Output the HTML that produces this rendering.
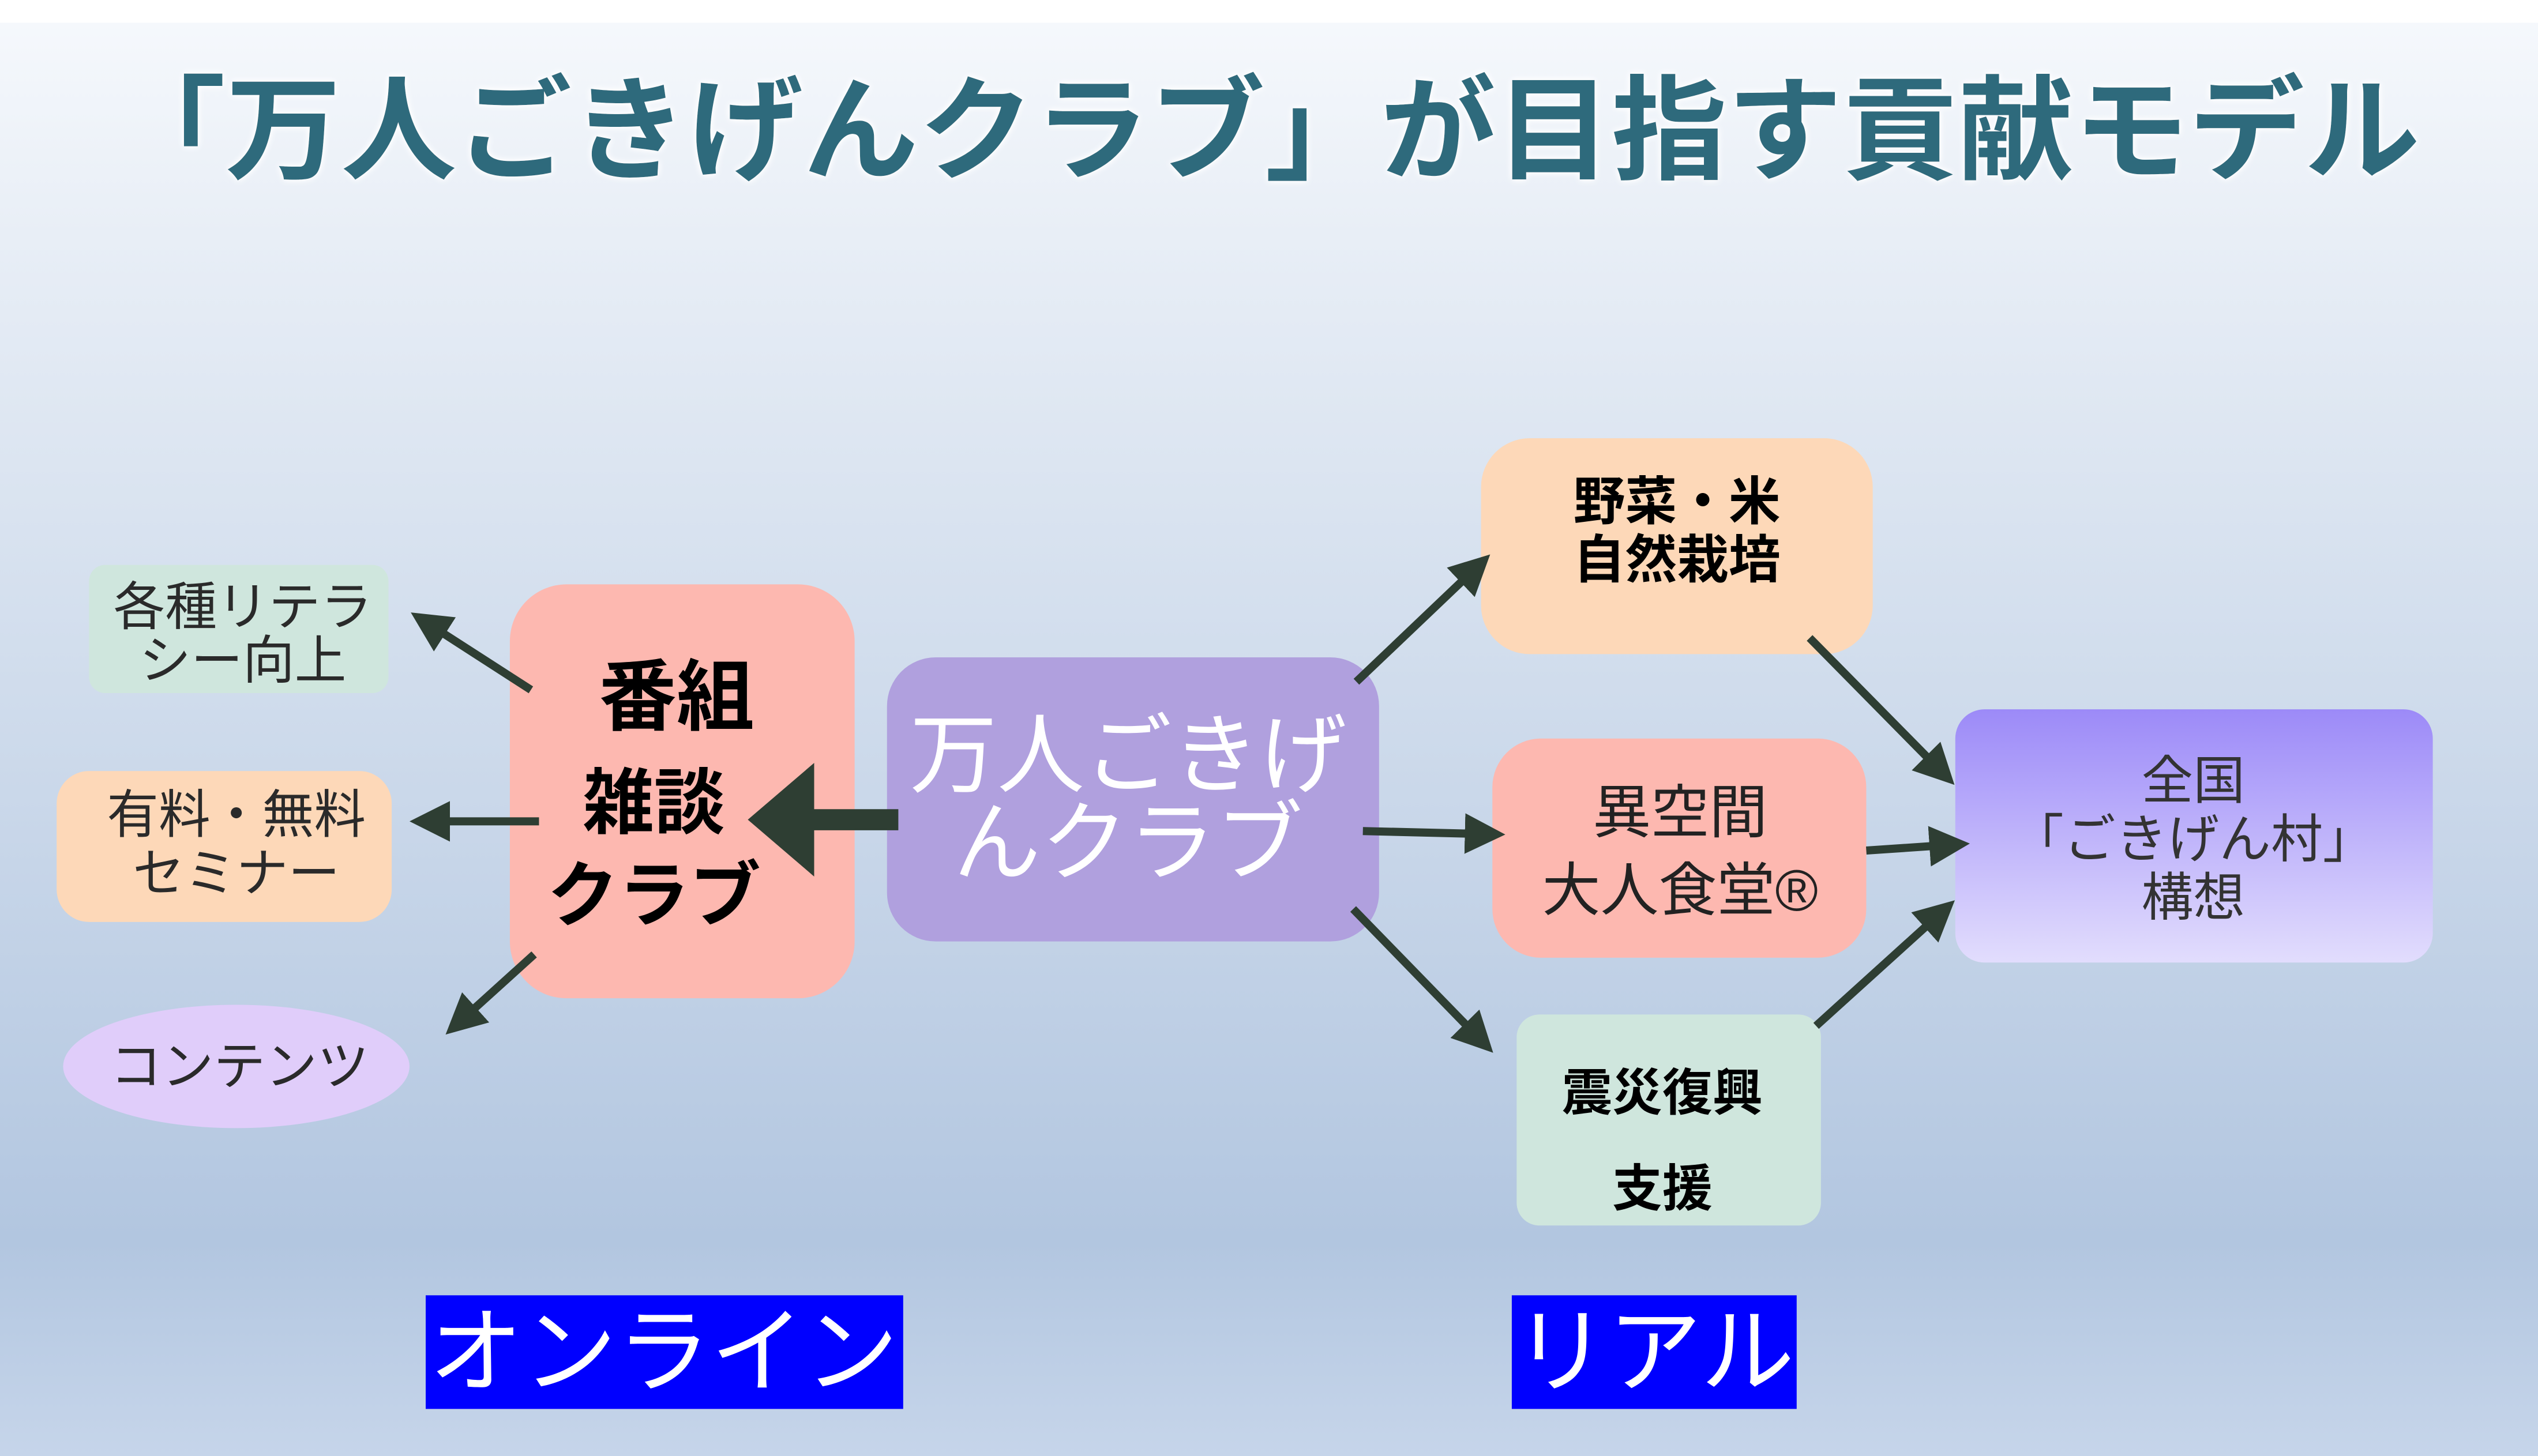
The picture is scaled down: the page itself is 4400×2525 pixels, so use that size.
<!DOCTYPE html>
<html><head><meta charset="utf-8"><style>
html,body{margin:0;padding:0;}
body{width:4400px;height:2525px;overflow:hidden;}
svg{display:block;}
text{font-family:"Liberation Sans","Noto Sans CJK JP",sans-serif;}
</style></head><body>
<svg width="4400" height="2525" viewBox="0 0 1568 897" preserveAspectRatio="none" xmlns="http://www.w3.org/2000/svg">
<defs>
<linearGradient id="bg" x1="0" y1="0" x2="0" y2="1">
<stop offset="0" stop-color="#f5f8fc"/>
<stop offset="0.15" stop-color="#e8eef6"/>
<stop offset="0.85" stop-color="#b2c6e0"/>
<stop offset="1" stop-color="#c6d5ea"/>
</linearGradient>
<linearGradient id="g4" x1="0" y1="0" x2="0" y2="1">
<stop offset="0" stop-color="#9c8af8"/>
<stop offset="1" stop-color="#e2ddfd"/>
</linearGradient>
<marker id="ah" viewBox="0 0 10 10" refX="8" refY="5" markerWidth="5" markerHeight="5" orient="auto"><path d="M0,0 L10,5 L0,10 z" fill="#2e3e33"/></marker>
<filter id="glow"><feGaussianBlur stdDeviation="2" in="SourceAlpha" result="b"/><feFlood flood-color="#fff"/><feComposite in2="b" operator="in"/><feMerge><feMergeNode/><feMergeNode/><feMergeNode in="SourceGraphic"/></feMerge></filter>
</defs>
<rect x="0" y="0" width="1568" height="897" fill="#fff"/>
<rect x="0" y="14" width="1568" height="883" fill="url(#bg)"/>
<g filter="url(#glow)">
<text x="68" y="105" font-size="70" font-weight="bold" fill="#2e6b7c" textLength="1427" lengthAdjust="spacingAndGlyphs">「万人ごきげんクラブ」が目指す貢献モデル</text>
</g>

<rect x="55" y="348" width="185" height="79" rx="10" fill="#cfe6dd"/>
<text x="150" y="385" font-size="32" fill="#2a2a2a" text-anchor="middle">各種リテラ</text>
<text x="150" y="418" font-size="32" fill="#2a2a2a" text-anchor="middle">シー向上</text>

<rect x="35" y="475" width="207" height="93" rx="20" fill="#fdd8b8"/>
<text x="146" y="513" font-size="32" fill="#2a2a2a" text-anchor="middle">有料・無料</text>
<text x="146" y="549" font-size="32" fill="#2a2a2a" text-anchor="middle">セミナー</text>

<ellipse cx="146" cy="657" rx="107" ry="38" fill="#e0cdfa"/>
<text x="148" y="668" font-size="32" fill="#2a2a2a" text-anchor="middle">コンテンツ</text>

<rect x="315" y="360" width="213" height="255" rx="35" fill="#fdb8b0"/>
<text x="418" y="446" font-size="48" font-weight="bold" fill="#000" text-anchor="middle">番組</text>
<text x="404" y="510" font-size="44" font-weight="bold" fill="#000" text-anchor="middle">雑談</text>
<text x="404" y="567" font-size="44" font-weight="bold" fill="#000" text-anchor="middle">クラブ</text>

<rect x="548" y="405" width="304" height="175" rx="30" fill="#b0a0de"/>
<text x="697" y="484" font-size="54" fill="#fff" text-anchor="middle">万人ごきげ</text>
<text x="697" y="538" font-size="54" fill="#fff" text-anchor="middle">んクラブ</text>

<rect x="915" y="270" width="242" height="133" rx="30" fill="#fdd8b8"/>
<text x="1036" y="320" font-size="32" font-weight="bold" fill="#000" text-anchor="middle">野菜・米</text>
<text x="1036" y="356" font-size="32" font-weight="bold" fill="#000" text-anchor="middle">自然栽培</text>

<rect x="922" y="455" width="231" height="135" rx="30" fill="#fdb8b0"/>
<text x="1038" y="513" font-size="36" fill="#222" text-anchor="middle">異空間</text>
<text x="1038" y="561" font-size="36" fill="#222" text-anchor="middle">大人食堂®</text>

<rect x="937" y="625" width="188" height="130" rx="14" fill="#cfe6dd"/>
<text x="1027" y="684" font-size="31" font-weight="bold" fill="#000" text-anchor="middle">震災復興</text>
<text x="1027" y="743" font-size="31" font-weight="bold" fill="#000" text-anchor="middle">支援</text>

<rect x="1208" y="437" width="295" height="156" rx="18" fill="url(#g4)"/>
<text x="1355" y="492" font-size="32" fill="#333" text-anchor="middle">全国</text>
<text x="1355" y="528" font-size="32" fill="#333" text-anchor="middle">「ごきげん村」</text>
<text x="1355" y="564" font-size="32" fill="#333" text-anchor="middle">構想</text>

<rect x="263" y="798" width="295" height="70" fill="#0000ff"/>
<text x="410" y="853" font-size="58" fill="#fff" text-anchor="middle">オンライン</text>
<rect x="934" y="798" width="176" height="70" fill="#0000ff"/>
<text x="1022" y="853" font-size="58" fill="#fff" text-anchor="middle">リアル</text>

<g stroke="#2e3e33" stroke-width="5" fill="none" marker-end="url(#ah)">
<line x1="328" y1="425" x2="258" y2="380"/>
<line x1="333" y1="506" x2="258" y2="506"/>
<line x1="330" y1="588" x2="279" y2="634"/>
<line x1="838" y1="420" x2="917" y2="345"/>
<line x1="842" y1="512" x2="925" y2="514"/>
<line x1="836" y1="560" x2="919" y2="645"/>
<line x1="1118" y1="393" x2="1204" y2="480"/>
<line x1="1153" y1="524" x2="1212" y2="520"/>
<line x1="1122" y1="632" x2="1204" y2="558"/>
</g>
<line x1="555" y1="505" x2="500" y2="505" stroke="#2e3e33" stroke-width="13"/>
<polygon points="462,505 503,470 503,540" fill="#2e3e33"/>
</svg>
</body></html>
